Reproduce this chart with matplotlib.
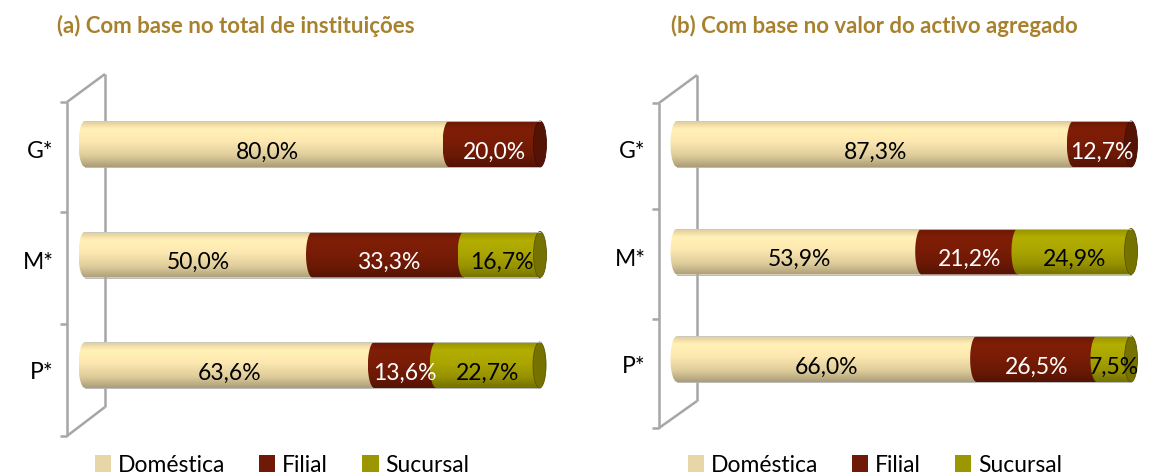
import numpy as np
import matplotlib
matplotlib.use('Agg')
import matplotlib.pyplot as plt
from matplotlib.patches import Polygon, Ellipse, Patch
from matplotlib.lines import Line2D
from matplotlib.colors import to_rgb
from matplotlib.transforms import ScaledTranslation

# data
categorias = ['G*', 'M*', 'P*']
series = ['Doméstica', 'Filial', 'Sucursal']
inst_domestica = [80.0, 50.0, 63.6]
inst_filial = [20.0, 33.3, 13.6]
inst_sucursal = [0.0, 16.7, 22.7]
activo_domestica = [87.3, 53.9, 66.0]
activo_filial = [12.7, 21.2, 26.5]
activo_sucursal = [0.0, 24.9, 7.5]
titulos = ['(a) Com base no total de instituições', '(b) Com base no valor do activo agregado']

cores = ['#EFDCA7', '#741B06', '#A39E00']
cores_legenda = ['#E8D6A6', '#6E1A07', '#9C9700']
cor_texto = ['black', 'white', 'black']
cor_titulo = '#A8812E'
cor_parede = '#A6A6A6'

W, H = 1161, 477
plt.rcParams['font.family'] = ['Lato', 'DejaVu Sans']
fig = plt.figure(figsize=(W / 100, H / 100), dpi=100)
fig.patch.set_facecolor('white')


def fx(x):
    return x / W


def fy(y):
    return 1 - y / H


def gradiente(cor):
    base = np.array(to_rgb(cor))
    t = np.linspace(0, 1, 60)
    f = np.interp(t, [0, 0.18, 0.45, 0.75, 1.0], [0.93, 1.10, 1.05, 0.93, 0.72])
    img = np.clip(base[None, :] * f[:, None], 0, 1)
    return img[:, None, :]


def painel(x0, x1, yc_top, yc_bot, dados, titulo, xtit, parede, xleg):
    s = (x1 - x0) / 100.0          # px per %
    u = (yc_bot - yc_top) / 2.0    # px per category step
    ax = fig.add_axes([fx(x0 - 6 * s), fy(yc_bot + 0.6 * u), 112 * s / W, (2 * u + 1.2 * u) / H])
    ax.set_xlim(-6, 106)
    ax.set_ylim(-0.6, 2.6)
    ax.axis('off')
    ax.patch.set_visible(False)
    h = 46 / u
    cap = 13 / s
    ypos = [2, 1, 0]
    desce = ScaledTranslation(0, -5 / 72, fig.dpi_scale_trans)
    for i, cat in enumerate(categorias):
        yc = ypos[i]
        left = 0.0
        ultimo = None
        for k in range(3):
            w = dados[k][i]
            if w <= 0:
                continue
            th = np.linspace(np.pi / 2, 3 * np.pi / 2, 40)
            pts = np.column_stack([left + cap / 2 * np.cos(th), yc + h / 2 * np.sin(th)])
            pts = np.vstack([pts, [[left + w, yc - h / 2], [left + w, yc + h / 2]]])
            poly = Polygon(pts, closed=True, facecolor='none', edgecolor='none')
            ax.add_patch(poly)
            im = ax.imshow(gradiente(cores[k]), extent=(left - cap / 2, left + w, yc - h / 2, yc + h / 2),
                           aspect='auto', origin='upper', zorder=2 + k * 0.1, interpolation='bilinear')
            im.set_clip_path(poly)
            ax.text(left + w / 2, yc, f'{w:.1f}%'.replace('.', ','), ha='center', va='center',
                    fontsize=16.5, color=cor_texto[k], zorder=5, transform=ax.transData + desce)
            left += w
            ultimo = k
        base = np.array(to_rgb(cores[ultimo]))
        ax.add_patch(Ellipse((left, yc), cap, h, facecolor=base * 0.72, edgecolor=base * 0.55, lw=0.6, zorder=4))
        ax.plot([0, left], [yc + h / 2, yc + h / 2], color='#C8C8C8', lw=0.6, zorder=4.5)
        ax.plot([0, left], [yc - h / 2, yc - h / 2], color='#B0B0B0', lw=0.6, zorder=4.5)
        ax.text(-6, yc, cat, ha='right', va='center', fontsize=16.5, color='black',
                transform=ax.transData + ScaledTranslation(-3 / 72, -5 / 72, fig.dpi_scale_trans))

    # back wall
    xl, xr, ytl, ytr, ybr, ybl, ticks = parede
    segs = [[(xl, ytl), (xl, ybl)], [(xl, ytl), (xr, ytr)], [(xr, ytr), (xr, ybr)], [(xr, ybr), (xl, ybl)]]
    for t in ticks:
        segs.append([(xl - 7, t), (xl, t)])
    for a, b in segs:
        fig.add_artist(Line2D([fx(a[0]), fx(b[0])], [fy(a[1]), fy(b[1])], color=cor_parede, lw=1.8,
                              transform=fig.transFigure, zorder=-1, solid_capstyle='butt'))

    fig.text(fx(xtit), fy(26), titulo, ha='center', va='center', fontsize=16, fontweight='bold', color=cor_titulo)
    handles = [Patch(facecolor=c, edgecolor='none') for c in cores_legenda]
    fig.legend(handles, series, loc='center', bbox_to_anchor=(fx(xleg), fy(466)), ncol=3, frameon=False,
               fontsize=16.5, handlelength=0.7, handleheight=0.7, handletextpad=0.3, columnspacing=1.5)
    return ax


painel(85, 540, 145, 366, [inst_domestica, inst_filial, inst_sucursal], titulos[0], 236,
       (67, 105, 103, 75, 408, 437, [103, 213, 325, 437]), 282)
painel(677, 1131, 145, 360, [activo_domestica, activo_filial, activo_sucursal], titulos[1], 874,
       (659, 697, 104, 76, 402, 429, [104, 210, 320, 429]), 875)

fig.savefig('out.png', dpi=100)
